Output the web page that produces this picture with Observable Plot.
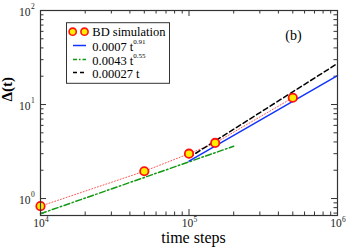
<!DOCTYPE html>
<html><head><meta charset="utf-8">
<script src="https://cdn.jsdelivr.net/npm/d3@7"></script>
<script src="https://cdn.jsdelivr.net/npm/@observablehq/plot@0.6"></script>
<style>body{margin:0;background:#fff}svg{font-family:"Liberation Serif","DejaVu Serif",serif}</style>
</head><body><div id="chart"></div>
<script>
// Data
const bdT = [1e4, 5e4, 1e5, 1.5e5, 5e5];
const bdD = [0.83, 1.95, 3.0, 3.9, 11.8];
const blueT = [1e5, 1e6];
const blueD = [2.5, 20.3];
const greenT = [1e4, 2e5];
const greenD = [0.69, 3.6];
const blackT = [1e5, 1e6];
const blackD = [2.73, 27.3];
const xMajor = [1e4, 1e5, 1e6];
const xExp = ["4", "5", "6"];
const yMajor = [1, 10, 100];
const yExp = ["0", "1", "2"];
const legendLabels = [["BD simulation", ""], ["0.0007 t", "0.91"], ["0.0043 t", "0.55"], ["0.00027 t", ""]];

const xMinor = [];
[1e4, 1e5].forEach(b => { for (let k = 2; k <= 9; k++) xMinor.push(b * k); });
const yMinor = [0.7, 0.8, 0.9];
[1, 10].forEach(b => { for (let k = 2; k <= 9; k++) yMinor.push(b * k); });

const W = 346, H = 252, mL = 40, mR = 9, mT = 10, mB = 37;
const iw = W - mL - mR, ih = H - mT - mB;
const axisColor = "#333";
const bd = bdT.map((t, i) => ({t, d: bdD[i]}));
const toRows = (T, D) => T.map((t, i) => ({t, d: D[i]}));

const ticks = (vals, len) => [
  Plot.ruleX(vals, {x: d => d, insetTop: ih - len, stroke: axisColor}),
  Plot.ruleX(vals, {x: d => d, insetBottom: ih - len, stroke: axisColor})
];
const yticks = (vals, len) => [
  Plot.ruleY(vals, {y: d => d, insetRight: iw - len, stroke: axisColor}),
  Plot.ruleY(vals, {y: d => d, insetLeft: iw - len, stroke: axisColor})
];

const chart = Plot.plot({
  width: W, height: H,
  marginLeft: mL, marginRight: mR, marginTop: mT, marginBottom: mB,
  x: {type: "log", domain: [1e4, 1e6], axis: null},
  y: {type: "log", domain: [0.66, 100], axis: null},
  style: {fontFamily: "Liberation Serif, serif", background: "#fff", overflow: "visible"},
  marks: [
    ...ticks(xMajor, 6), ...ticks(xMinor, 3.5),
    ...yticks(yMajor, 6), ...yticks(yMinor, 3.5),
    Plot.line(bd, {x: "t", y: "d", stroke: "#ff5555", strokeWidth: 1, strokeDasharray: "1,2"}),
    Plot.line(toRows(greenT, greenD), {x: "t", y: "d", stroke: "#119911", strokeWidth: 1.5, strokeDasharray: "6,2.5,1.5,2.5"}),
    Plot.line(toRows(blueT, blueD), {x: "t", y: "d", stroke: "#1133ff", strokeWidth: 1.5}),
    Plot.line(toRows(blackT, blackD), {x: "t", y: "d", stroke: "#000", strokeWidth: 1.5, strokeDasharray: "5,3"}),
    Plot.dot(bd, {x: "t", y: "d", r: 4.2, fill: "#ffee00", stroke: "#ff1111", strokeWidth: 1.8}),
    Plot.frame({stroke: axisColor, strokeWidth: 1.2}),
    Plot.text(xMajor, {x: d => d, frameAnchor: "bottom", text: () => "10", dy: 11.5, dx: -1.5, fontSize: 11.5, fill: "#222"}),
    Plot.text(xMajor, {x: d => d, frameAnchor: "bottom", text: (d, i) => xExp[i], dy: 6, dx: 4.5, fontSize: 7.5, textAnchor: "start", fill: "#222"}),
    Plot.text(yMajor, {y: d => d, frameAnchor: "left", text: () => "10", dy: 1.5, dx: -10, fontSize: 11.5, textAnchor: "end", fill: "#222"}),
    Plot.text(yMajor, {y: d => d, frameAnchor: "left", text: (d, i) => yExp[i], dy: -3.5, dx: -9.5, fontSize: 7.5, textAnchor: "start", fill: "#222"}),
    Plot.text(["time steps"], {frameAnchor: "bottom", text: d => d, dx: 4.5, dy: 27.5, fontSize: 16, fill: "#000"}),
    Plot.text(["Δ(t)"], {frameAnchor: "left", text: d => d, rotate: -90, dx: -33, dy: -11.5, fontSize: 15, fontWeight: "bold", fill: "#000"}),
    Plot.text(["(b)"], {frameAnchor: "top-right", text: d => d, dx: -44, dy: 20, fontSize: 14, textAnchor: "middle", fill: "#000"})
  ]
});
document.getElementById("chart").appendChild(chart);

// Legend box drawn inside the plot's SVG
const svg = d3.select(chart);
const g = svg.append("g").attr("font-family", "Liberation Serif, serif").attr("text-anchor", "start");
g.append("rect").attr("x", 66.5).attr("y", 22.7).attr("width", 103).attr("height", 60.6)
  .attr("fill", "#fff").attr("stroke", "#333").attr("stroke-width", 1);
const rowBase = [36, 50.5, 64.5, 77.5];
const styles = [null, {stroke: "#1133ff", dash: null}, {stroke: "#119911", dash: "4,2,1.5,2"}, {stroke: "#000", dash: "4,3"}];
legendLabels.forEach(([lab, sup], i) => {
  const yb = rowBase[i];
  if (i === 0) {
    [72.7, 84.5].forEach(cx => g.append("circle").attr("cx", cx).attr("cy", yb - 4.3).attr("r", 3.6)
      .attr("fill", "#ffee00").attr("stroke", "#ff1111").attr("stroke-width", 1.6));
  } else {
    const s = styles[i];
    const ln = g.append("line").attr("x1", 73).attr("x2", 86).attr("y1", yb - 5).attr("y2", yb - 5)
      .attr("stroke", s.stroke).attr("stroke-width", 1.5);
    if (s.dash) ln.attr("stroke-dasharray", s.dash);
  }
  const t = g.append("text").attr("x", 92.3).attr("y", yb).attr("font-size", 12.5)
    .attr("text-anchor", "start").attr("fill", "#000");
  t.append("tspan").text(lab);
  if (sup) t.append("tspan").attr("dy", -6.5).attr("font-size", 7).text(sup);
});
</script></body></html>
